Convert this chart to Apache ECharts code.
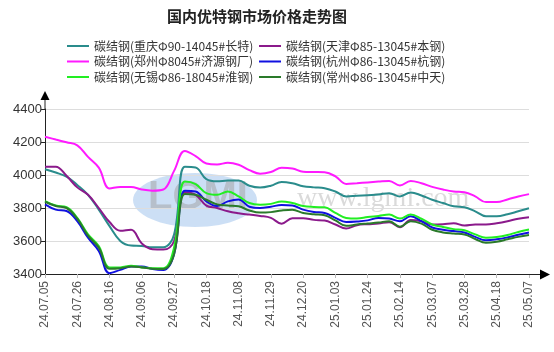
<!DOCTYPE html>
<html>
<head>
<meta charset="utf-8">
<script src="https://cdn.jsdelivr.net/npm/echarts@6/dist/echarts.min.js"></script>
<style>
  html, body { margin: 0; padding: 0; background: #fff; }
  #chart { width: 554px; height: 352px; }
</style>
</head>
<body>
<div id="chart"></div>
<script>
const categories = [
  "24.07.05", "24.07.12", "24.07.19", "24.07.26", "24.08.02", "24.08.09",
  "24.08.16", "24.08.23", "24.08.30", "24.09.06", "24.09.13", "24.09.20",
  "24.09.27", "24.10.08", "24.10.11", "24.10.18", "24.10.25", "24.11.01",
  "24.11.08", "24.11.15", "24.11.22", "24.11.29", "24.12.06", "24.12.13",
  "24.12.20", "24.12.27", "24.12.31", "25.01.03", "25.01.10", "25.01.17",
  "25.01.24", "25.01.27", "25.02.07", "25.02.14", "25.02.21", "25.02.28",
  "25.03.07", "25.03.14", "25.03.21", "25.03.28", "25.04.03", "25.04.11",
  "25.04.18", "25.04.25", "25.04.30", "25.05.07"
];

const chongqing = [
  4035, 4015, 3990, 3940, 3880, 3790, 3690, 3600, 3572, 3570, 3562, 3562,
  3640, 4050, 4045, 3975, 3962, 3966, 3966, 3935, 3924, 3935, 3958, 3950,
  3932, 3925, 3920, 3900, 3870, 3874, 3878, 3882, 3890, 3870, 3894, 3876,
  3850, 3830, 3810, 3805, 3780, 3750, 3750, 3762, 3780, 3798
];
const tianjin = [
  4050, 4050, 3995, 3925, 3880, 3800, 3715, 3662, 3668, 3585, 3550, 3548,
  3600, 3895, 3880, 3815, 3800, 3780, 3768, 3760, 3752, 3740, 3705, 3738,
  3738, 3728, 3724, 3700, 3676, 3696, 3702, 3706, 3714, 3684, 3728, 3720,
  3700, 3702, 3708, 3694, 3700, 3700, 3708, 3720, 3735, 3744
];
const zhengzhou = [
  4232, 4215, 4198, 4180, 4110, 4045, 3918, 3928, 3928, 3912, 3905, 3912,
  4025, 4145, 4115, 4070, 4064, 4074, 4062, 4030, 4008, 4018, 4044, 4040,
  4020, 4018, 4016, 3992, 3946, 3950, 3955, 3960, 3964, 3936, 3964, 3950,
  3928, 3912, 3900, 3896, 3870, 3836, 3836, 3852, 3870, 3884
];
const hangzhou = [
  3822, 3790, 3782, 3720, 3620, 3540, 3405, 3425, 3445, 3445, 3430, 3425,
  3520, 3905, 3900, 3840, 3812, 3840, 3852, 3808, 3800, 3808, 3818, 3815,
  3790, 3776, 3770, 3740, 3715, 3718, 3725, 3740, 3736, 3720, 3750, 3720,
  3682, 3668, 3660, 3652, 3625, 3604, 3610, 3622, 3638, 3652
];
const wuxi = [
  3842, 3815, 3805, 3740, 3640, 3570, 3440, 3440, 3450, 3440, 3435, 3435,
  3560, 3960, 3945, 3890, 3880, 3900, 3870, 3830, 3820, 3825, 3840, 3830,
  3812, 3806, 3804, 3770, 3740, 3736, 3745, 3752, 3760, 3736, 3760, 3735,
  3700, 3685, 3672, 3665, 3640, 3620, 3624, 3636, 3655, 3670
];
const changzhou = [
  3838, 3812, 3800, 3735, 3632, 3560, 3432, 3435, 3445, 3440, 3432, 3430,
  3520, 3885, 3880, 3850, 3822, 3815, 3810, 3785, 3772, 3775, 3785, 3790,
  3770, 3762, 3756, 3725, 3692, 3700, 3706, 3712, 3720, 3686, 3720, 3705,
  3668, 3652, 3645, 3640, 3612, 3590, 3596, 3610, 3625, 3636
];

const seriesList = [
  { name: "碳结钢(重庆Φ90-14045#长特)", data: chongqing, color: "#2a8c8c" },
  { name: "碳结钢(天津Φ85-13045#本钢)", data: tianjin, color: "#8b1a8b" },
  { name: "碳结钢(郑州Φ8045#济源钢厂)", data: zhengzhou, color: "#ff1aff" },
  { name: "碳结钢(杭州Φ86-13045#杭钢)", data: hangzhou, color: "#1010e0" },
  { name: "碳结钢(无锡Φ86-18045#淮钢)", data: wuxi, color: "#22ee22" },
  { name: "碳结钢(常州Φ86-13045#中天)", data: changzhou, color: "#2a7a2a" }
];

const chart = echarts.init(document.getElementById("chart"));

const legendBase = {
  orient: "vertical",
  top: 35,
  itemWidth: 22,
  itemHeight: 12,
  itemGap: 3.5,
  icon: "path://M0,5 L22,5 L22,7 L0,7 Z",
  textStyle: { fontSize: 12, color: "#333", fontFamily: "Noto Sans CJK SC" }
};

const option = {
  animation: false,
  title: {
    text: "国内优特钢市场价格走势图",
    left: 162,
    top: 4,
    textStyle: { fontSize: 15, fontWeight: "bold", color: "#222", fontFamily: "Noto Sans CJK SC" }
  },
  legend: [
    Object.assign({}, legendBase, {
      left: 62,
      data: [seriesList[0].name, seriesList[2].name, seriesList[4].name]
    }),
    Object.assign({}, legendBase, {
      left: 254,
      data: [seriesList[1].name, seriesList[3].name, seriesList[5].name]
    })
  ],
  grid: { left: 45, right: 25, top: 109, bottom: 78 },
  xAxis: {
    type: "category",
    boundaryGap: false,
    data: categories,
    axisLine: { lineStyle: { color: "#222", width: 1 } },
    axisTick: { show: true, interval: 2, length: 4, lineStyle: { color: "#bbb" } },
    axisLabel: {
      interval: 2,
      rotate: 90,
      margin: 7,
      fontSize: 12,
      color: "#555",
      fontFamily: "Liberation Sans"
    },
    splitLine: { show: false }
  },
  yAxis: {
    type: "value",
    min: 3400,
    max: 4400,
    interval: 200,
    axisLine: { show: true, lineStyle: { color: "#222", width: 1 } },
    axisTick: { show: true, length: 4, lineStyle: { color: "#222" } },
    axisLabel: {
      fontSize: 13, color: "#333", margin: 3, fontFamily: "Liberation Sans",
      formatter: v => String(v)
    },
    splitLine: { lineStyle: { color: "#ddd", width: 1 } }
  },
  graphic: [
    // watermark logo
    {
      type: "ellipse", z: 0, silent: true,
      shape: { cx: 195, cy: 200, rx: 62, ry: 27 },
      style: { fill: "rgba(120,170,230,0.38)" }
    },
    {
      type: "text", z: 0, silent: true, left: 148, top: 178,
      style: { text: "LGMI", fontSize: 40, fontWeight: "bold", fill: "rgba(160,160,160,0.5)", fontFamily: "Liberation Sans" }
    },
    {
      type: "text", z: 0, silent: true, left: 297, top: 185,
      style: { text: "www.lgmi.com", fontSize: 28, fill: "rgba(150,150,150,0.35)", fontFamily: "Liberation Serif" }
    },
    // axis extensions with arrows
    { type: "line", z: 5, silent: true, shape: { x1: 45, y1: 109, x2: 45, y2: 98 }, style: { stroke: "#222", lineWidth: 1 } },
    { type: "polygon", z: 5, silent: true, shape: { points: [[45, 91], [40.5, 100], [49.5, 100]] }, style: { fill: "#000" } },
    { type: "line", z: 5, silent: true, shape: { x1: 529, y1: 274.5, x2: 542, y2: 274.5 }, style: { stroke: "#222", lineWidth: 1 } },
    { type: "polygon", z: 5, silent: true, shape: { points: [[550, 274.5], [540, 269.5], [540, 279.5]] }, style: { fill: "#000" } }
  ],
  series: seriesList.map(s => ({
    name: s.name,
    type: "line",
    data: s.data,
    smooth: 0.4,
    symbol: "none",
    z: 3,
    itemStyle: { color: s.color },
    lineStyle: { color: s.color, width: 2 }
  }))
};

chart.setOption(option);
</script>
</body>
</html>
